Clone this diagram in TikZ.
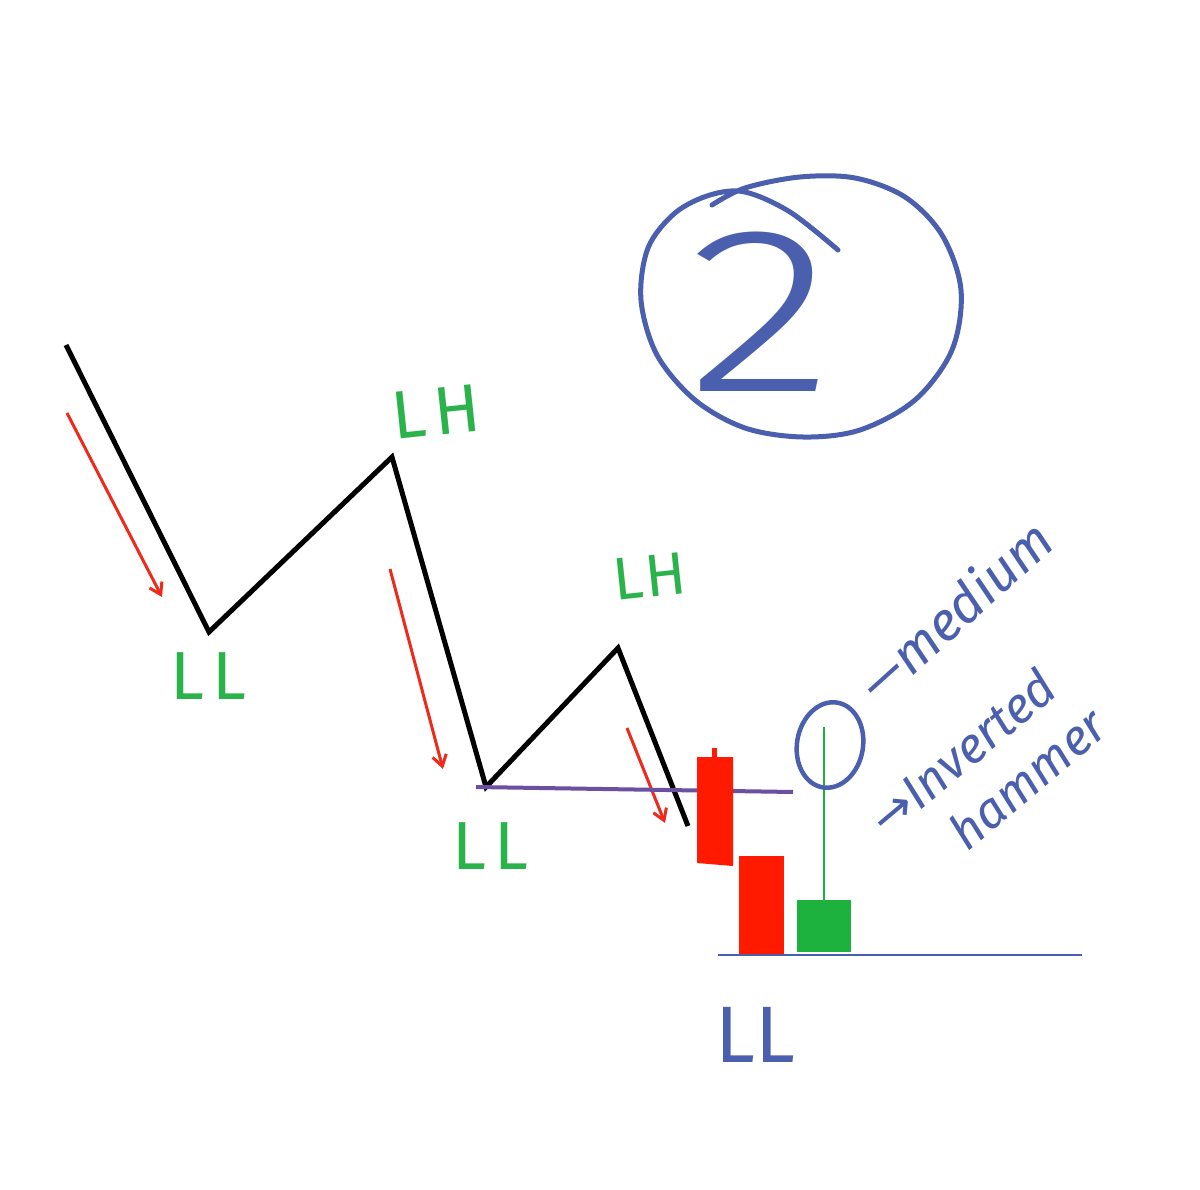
\documentclass[tikz,border=0pt]{standalone}
\usepackage{fontspec}
\setmainfont{Fira Sans}
\newfontfamily\arrowfont{DejaVu Sans}
\newfontfamily\lightfont{Fira Sans Light}
\usetikzlibrary{arrows.meta}
\definecolor{lblgreen}{HTML}{2AB34B}
\definecolor{penblue}{HTML}{4A5FAE}
\definecolor{arrred}{HTML}{EE2A1A}
\definecolor{candred}{HTML}{FF1A00}
\definecolor{candgreen}{HTML}{1DB13E}
\definecolor{lvlpurple}{HTML}{6B4FA0}
\tikzset{
  trend/.style={line width=5pt, black, line join=miter},
  downarrow/.style={line width=3pt, arrred, -{Straight Barb[length=11pt,width=14pt,line width=3pt]}},
  pen/.style={line width=5pt, penblue, line cap=round, line join=round},
  glabel/.style={text=lblgreen, inner sep=0pt, font=\fontsize{68}{68}\selectfont\addfontfeatures{LetterSpace=12}},
  bluetext/.style={text=penblue, inner sep=0pt},
}
\begin{document}
\begin{tikzpicture}[x=1pt,y=-1pt]
\useasboundingbox[fill=white] (0,0) rectangle (1200,1190);

% trend zigzag
\coordinate (s0) at (66,345);
\coordinate (ll1) at (209,632);
\coordinate (lh1) at (392,457);
\coordinate (ll2) at (486,787);
\coordinate (lh2) at (618,648);
\coordinate (e0) at (688,826);
\draw[trend] (s0) -- (ll1) -- (lh1) -- (ll2) -- (lh2) -- (e0);

% red arrows
\coordinate (a1s) at (67,413);  \coordinate (a1e) at (162,597);
\coordinate (a2s) at (390,569); \coordinate (a2e) at (443,769);
\coordinate (a3s) at (627,728); \coordinate (a3e) at (665,823);
\draw[downarrow] (a1s) -- (a1e);
\draw[downarrow] (a2s) -- (a2e);
\draw[downarrow] (a3s) -- (a3e);

% purple level line
\coordinate (pl) at (476,787); \coordinate (pr) at (793,792);
\draw[line width=4pt, lvlpurple] (pl) -- (pr);

% candles
\fill[candred] (697,757) -- (733,757) -- (733,866) -- (697,863) -- cycle;
\draw[candred, line width=5pt] (714,748) -- (714,760);
\fill[candred] (739,856) rectangle (784,954);
\coordinate (wtop) at (824,727); \coordinate (wbot) at (824,901);
\draw[candgreen, line width=2.5pt] (wtop) -- (wbot);
\fill[candgreen] (797,900) rectangle (851,952);

% base line
\coordinate (bl) at (718,955); \coordinate (br) at (1082,955);
\draw[penblue, line width=2.5pt] (bl) -- (br);

% small circle round the wick top
\draw[pen, line width=4.5pt, rotate around={-10:(830,745)}] (830,745) ellipse [x radius=33, y radius=43];

% green labels
\node[glabel] (tLL1) at (208,676) {LL};
\node[glabel, rotate=6] (tLH1) at (436,412) {LH};
\node[glabel] (tLL2) at (490,846) {LL};
\node[glabel, rotate=6, font=\fontsize{60}{60}\selectfont\addfontfeatures{LetterSpace=4}] (tLH2) at (650,576) {LH};

% blue LL
\node[bluetext, font=\fontsize{80}{80}\selectfont] (tLL3) at (755,1035) {LL};

% annotations
\node[bluetext, rotate=42, font=\fontsize{54}{54}\selectfont\itshape] (tmed) at (955,610) {—medium};
\node[bluetext, rotate=40, font=\fontsize{50}{50}\selectfont\itshape] (tinv) at (962,752) {{\arrowfont →}Inverted};
\node[bluetext, rotate=40, font=\fontsize{50}{50}\selectfont\itshape] (tham) at (1027,778) {hammer};

% circled 2
\draw[pen] plot[smooth, tension=0.55] coordinates {
 (712,205) (745,188) (800,177) (855,178) (905,197) (942,235) (961,290) (952,350)
 (915,400) (860,430) (803,437) (745,428) (695,400) (657,355) (641,300) (648,248)
 (675,213) (710,195) (745,192) (790,212) (838,250)};
\node[bluetext, font=\lightfont\fontsize{236}{236}\selectfont, xscale=1.3] (two) at (761,312) {2};
\end{tikzpicture}
\end{document}
